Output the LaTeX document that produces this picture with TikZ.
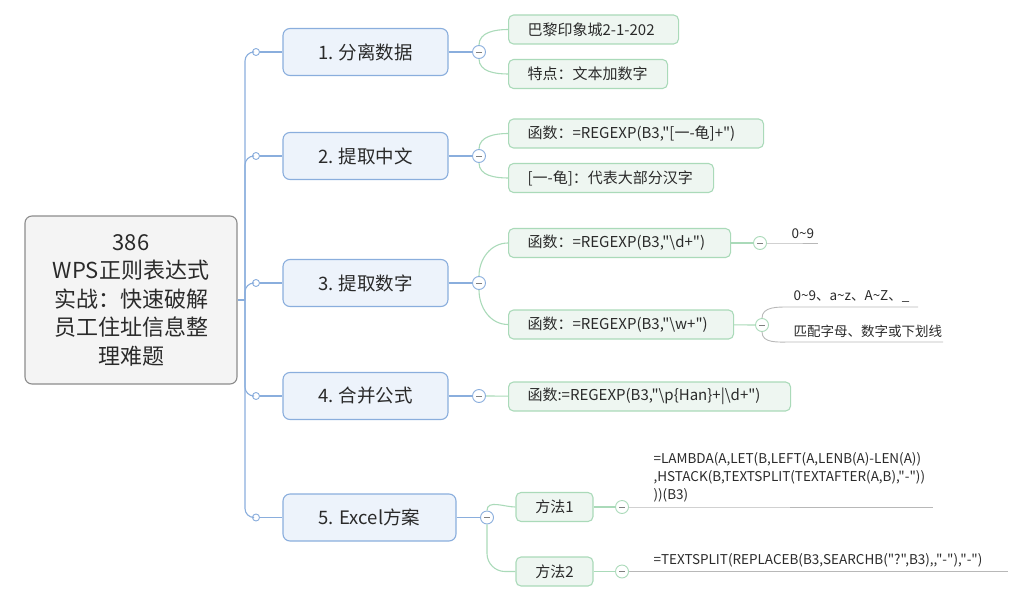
\documentclass[tikz,border=0pt]{standalone}
\usepackage{fontspec}
\setmainfont{Noto Sans CJK SC}[Ligatures = TeXOff]
\definecolor{rootfill}{HTML}{F4F4F4}
\definecolor{rootline}{HTML}{8C8C8C}
\definecolor{bluefill}{HTML}{EDF3FB}
\definecolor{blueline}{HTML}{8AAEDD}
\definecolor{greenfill}{HTML}{EEF6F1}
\definecolor{greenline}{HTML}{AADAB9}
\definecolor{greyline}{HTML}{B8B8B8}
\definecolor{ink}{HTML}{2A2A2A}
\begin{document}
\begin{tikzpicture}[
        x = 1pt, y = -1pt,
        line width = 1.1pt,
        every node/.style = {text = ink},
        root/.style = {draw = rootline, fill = rootfill, rounded corners = 7pt, minimum width = 212pt, minimum height = 168pt, align = center, font = \fontsize{22}{28.5}\selectfont},
        branch/.style = {draw = blueline, fill = bluefill, rounded corners = 7pt, minimum width = 165pt, minimum height = 47pt, font = \fontsize{18.5}{20}\selectfont},
        leaf/.style = {draw = greenline, fill = greenfill, rounded corners = 5pt, anchor = west, inner xsep = 19pt, minimum height = 29pt, align = left, text width = #1, font = \fontsize{15}{16}\selectfont},
        method/.style = {draw = greenline, fill = greenfill, rounded corners = 5pt, minimum width = 77pt, minimum height = 29pt, font = \fontsize{15}{16}\selectfont},
        note/.style = {anchor = south west, inner xsep = 3pt, inner ysep = 4pt, font = \fontsize{13.5}{18}\selectfont},
        dot/.style = {circle, draw = blueline, fill = white, minimum size = 7pt, inner sep = 0pt, line width = 0.9pt},
        fold/.style = {circle, draw = #1, fill = white, minimum size = 13pt, inner sep = 0pt, line width = 0.9pt,
            path picture = {\draw[ink!60, line width = 0.8pt] (path picture bounding box.center) ++(-3,0) -- ++(6,0);}},
        bluelink/.style = {draw = blueline},
        greenlink/.style = {draw = greenline},
        greylink/.style = {draw = greyline, line width = 0.9pt}
    ]
    \useasboundingbox (0,0) rectangle (1024,596);
    \node[root] (root) at (131,300) {386\\WPS正则表达式\\实战：快速破解\\员工住址信息整\\理难题};
    \coordinate (sp) at (245,300);
    \node[branch] (b1) at (365.5,52) {1. 分离数据};
    \node[branch] (b2) at (365.5,156) {2. 提取中文};
    \node[branch] (b3) at (365.5,283) {3. 提取数字};
    \node[branch] (b4) at (365.5,396) {4. 合并公式};
    \node[branch, minimum width = 173pt] (b5) at (369.5,517.5) {5. Excel方案};
    \draw[bluelink] (root) -- (sp);
    \foreach \b/\y in {1/52, 2/156, 3/283, 4/396, 5/517.5} {
        \node[dot] (d\b) at (256,\y) {};
        \draw[bluelink, rounded corners = 9pt] (sp) |- (d\b);
        \draw[bluelink] (d\b) -- (b\b);
    }
    \node[fold = blueline] (c1) at (479,52) {};
    \node[fold = blueline] (c2) at (479,156) {};
    \node[fold = blueline] (c3) at (479,283) {};
    \node[fold = blueline] (c4) at (479,396) {};
    \node[fold = blueline] (c5) at (487,517.5) {};
    \foreach \b in {1,...,5}
        \draw[bluelink] (b\b) -- (c\b);
    \node[leaf = 132pt] (l11) at (508,29.5) {巴黎印象城2-1-202};
    \node[leaf = 121pt] (l12) at (508,74) {特点：文本加数字};
    \node[leaf = 217pt] (l21) at (508,133.5) {函数：=REGEXP(B3,"[一-龟]+")};
    \node[leaf = 167pt] (l22) at (508,178) {[一-龟]：代表大部分汉字};
    \node[leaf = 184pt] (l31) at (508,243) {函数：=REGEXP(B3,"\textbackslash d+")};
    \node[leaf = 187pt] (l32) at (508,324.5) {函数：=REGEXP(B3,"\textbackslash w+")};
    \node[leaf = 244pt] (l41) at (508,396.5) {函数:=REGEXP(B3,"\textbackslash p\{Han\}+|\textbackslash d+")};
    \node[method] (m1) at (554.5,507) {方法1};
    \node[method] (m2) at (554.5,571.5) {方法2};
    \draw[greenlink] (c1.north) to[out = 90, in = 180] (l11.west);
    \draw[greenlink] (c1.south) to[out = -90, in = 180] (l12.west);
    \draw[greenlink] (c2.north) to[out = 90, in = 180] (l21.west);
    \draw[greenlink] (c2.south) to[out = -90, in = 180] (l22.west);
    \draw[greenlink] (c3.north) to[out = 90, in = 180] (l31.west);
    \draw[greenlink] (c3.south) to[out = -90, in = 180] (l32.west);
    \draw[greenlink] (c4) -- (l41);
    \draw[greenlink] (c5.north) to[out = 90, in = 180] (m1.west);
    \draw[greenlink, rounded corners = 18pt] (c5.south) |- (m2.west);
    \node[fold = greenline] (c31) at (760,243) {};
    \node[fold = greenline] (c32) at (762,325) {};
    \node[fold = greenline] (c51) at (622,507) {};
    \node[fold = greenline] (c52) at (622,571.5) {};
    \draw[greenlink] (l31) -- (c31);
    \draw[greenlink] (l32) -- (c32);
    \draw[greenlink] (m1) -- (c51);
    \draw[greenlink] (m2) -- (c52);
    \node[note] (n31) at (788,243) {0\textasciitilde 9};
    \node[note] (n321) at (790,307) {0\textasciitilde 9、a\textasciitilde z、A\textasciitilde Z、\_};
    \node[note] (n322) at (790,342) {匹配字母、数字或下划线};
    \node[note, align = left] (n51) at (650,507) {=LAMBDA(A,LET(B,LEFT(A,LENB(A)-LEN(A))\\,HSTACK(B,TEXTSPLIT(TEXTAFTER(A,B),"-"))\\))(B3)};
    \node[note] (n52) at (650,571.5) {=TEXTSPLIT(REPLACEB(B3,SEARCHB("?",B3),,"-"),"-")};
    \coordinate (e31) at (818,243);
    \coordinate (e321) at (918,307);
    \coordinate (e322) at (943,342);
    \coordinate (e51) at (933,507);
    \coordinate (e52) at (1008,571.5);
    \draw[greylink] (c31) -- (n31.south west) -- (e31);
    \draw[greylink] (c32.north) to[out = 90, in = 180] (n321.south west) -- (e321);
    \draw[greylink] (c32.south) to[out = -90, in = 180] (n322.south west) -- (e322);
    \draw[greylink] (c51) -- (n51.south west) -- (e51);
    \draw[greylink] (c52) -- (n52.south west) -- (e52);
\end{tikzpicture}
\end{document}
